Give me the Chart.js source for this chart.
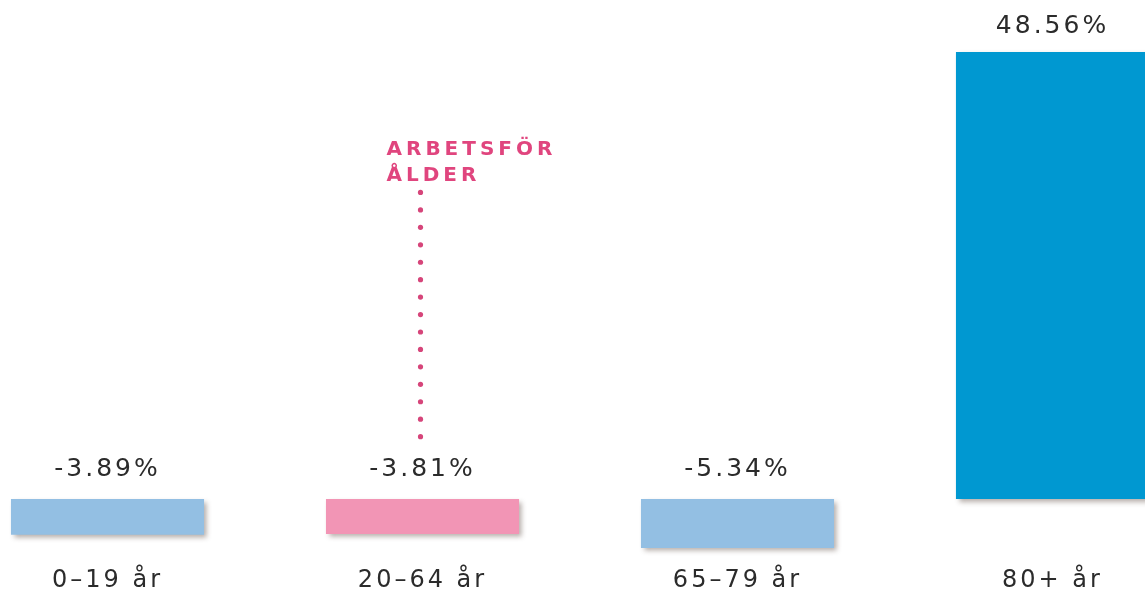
<!DOCTYPE html>
<html>
<head>
<meta charset="utf-8">
<script src="https://cdn.jsdelivr.net/npm/chart.js@4.4.1/dist/chart.umd.min.js"></script>
<style>
  html, body { margin: 0; padding: 0; background: #ffffff; overflow: hidden; width: 1145px; height: 590px; }
  #wrap { position: absolute; left: -50px; top: 13px; width: 1260px; height: 590px; }
</style>
</head>
<body>
<div id="wrap"><canvas id="c" width="1260" height="590"></canvas></div>
<script>
// ---- data ----
const categories = ["0–19 år", "20–64 år", "65–79 år", "80+ år"];
const changePercent = [-3.89, -3.81, -5.34, 48.56];
const barColors = ["#93bfe3", "#f295b5", "#93bfe3", "#0098d1"];
const markerCategory = "20–64 år";
const markerRange = [6.77, 33.3];
const markerLabel = ["ARBETSFÖR", "ÅLDER"];

const textFont = "'DejaVu Sans', 'Open Sans', sans-serif";

const spacingPlugin = {
  id: 'spacing',
  beforeLayout(chart) { chart.ctx.letterSpacing = '3px'; },
  beforeDraw(chart) { chart.ctx.letterSpacing = '3px'; }
};

const shadowPlugin = {
  id: 'barShadow',
  beforeDatasetsDraw(chart) {
    const ctx = chart.ctx;
    ctx.save();
    ctx.shadowColor = 'rgba(60,40,30,0.38)';
    ctx.shadowBlur = 5;
    ctx.shadowOffsetX = 3;
    ctx.shadowOffsetY = 3;
  },
  afterDatasetsDraw(chart) {
    chart.ctx.restore();
  }
};

const labelPlugin = {
  id: 'valueLabels',
  afterDraw(chart) {
    const ctx = chart.ctx;
    const meta = chart.getDatasetMeta(0);
    ctx.save();
    ctx.letterSpacing = '3px';
    ctx.font = "25px " + textFont;
    ctx.fillStyle = '#2b2b2b';
    ctx.textAlign = 'center';
    ctx.textBaseline = 'middle';
    meta.data.forEach((el, i) => {
      const top = Math.min(el.y, el.base);
      const off = changePercent[i] < 0 ? 29 : 26;
      ctx.fillText(changePercent[i].toFixed(2) + '%', el.x, top - off);
    });
    ctx.restore();

    // dotted marker for working age
    const xs = chart.scales.x, ys = chart.scales.y;
    const idx = categories.indexOf(markerCategory);
    const mx = xs.getPixelForValue(idx) - 2;
    const yTop = ys.getPixelForValue(markerRange[1]);
    const yBot = ys.getPixelForValue(markerRange[0]);
    const n = 15;
    ctx.save();
    ctx.fillStyle = '#d6457a';
    for (let k = 0; k < n; k++) {
      const y = yTop + (yBot - yTop) * k / (n - 1);
      ctx.beginPath();
      ctx.arc(mx, y, 2.6, 0, Math.PI * 2);
      ctx.fill();
    }
    ctx.font = "bold 20px " + textFont;
    ctx.letterSpacing = '4px';
    ctx.fillStyle = '#e0457e';
    ctx.textAlign = 'left';
    ctx.textBaseline = 'alphabetic';
    markerLabel.forEach((t, k) => {
      ctx.fillText(t, mx - 34, yTop - 37 + k * 26);
    });
    ctx.restore();
  }
};

new Chart(document.getElementById('c'), {
  type: 'bar',
  data: {
    labels: categories,
    datasets: [{
      data: changePercent,
      backgroundColor: barColors,
      borderWidth: 0,
      categoryPercentage: 1,
      barPercentage: 0.613,
      clip: false
    }]
  },
  options: {
    responsive: false,
    animation: false,
    layout: { padding: 0 },
    plugins: { legend: { display: false }, tooltip: { enabled: false } },
    scales: {
      x: {
        grid: { display: false },
        border: { display: false },
        ticks: { color: '#2b2b2b', font: { family: textFont, size: 24 }, padding: 8, maxRotation: 0 }
      },
      y: {
        display: false,
        min: -5.57,
        max: 52.8
      }
    }
  },
  plugins: [spacingPlugin, shadowPlugin, labelPlugin]
});
</script>
</body>
</html>
